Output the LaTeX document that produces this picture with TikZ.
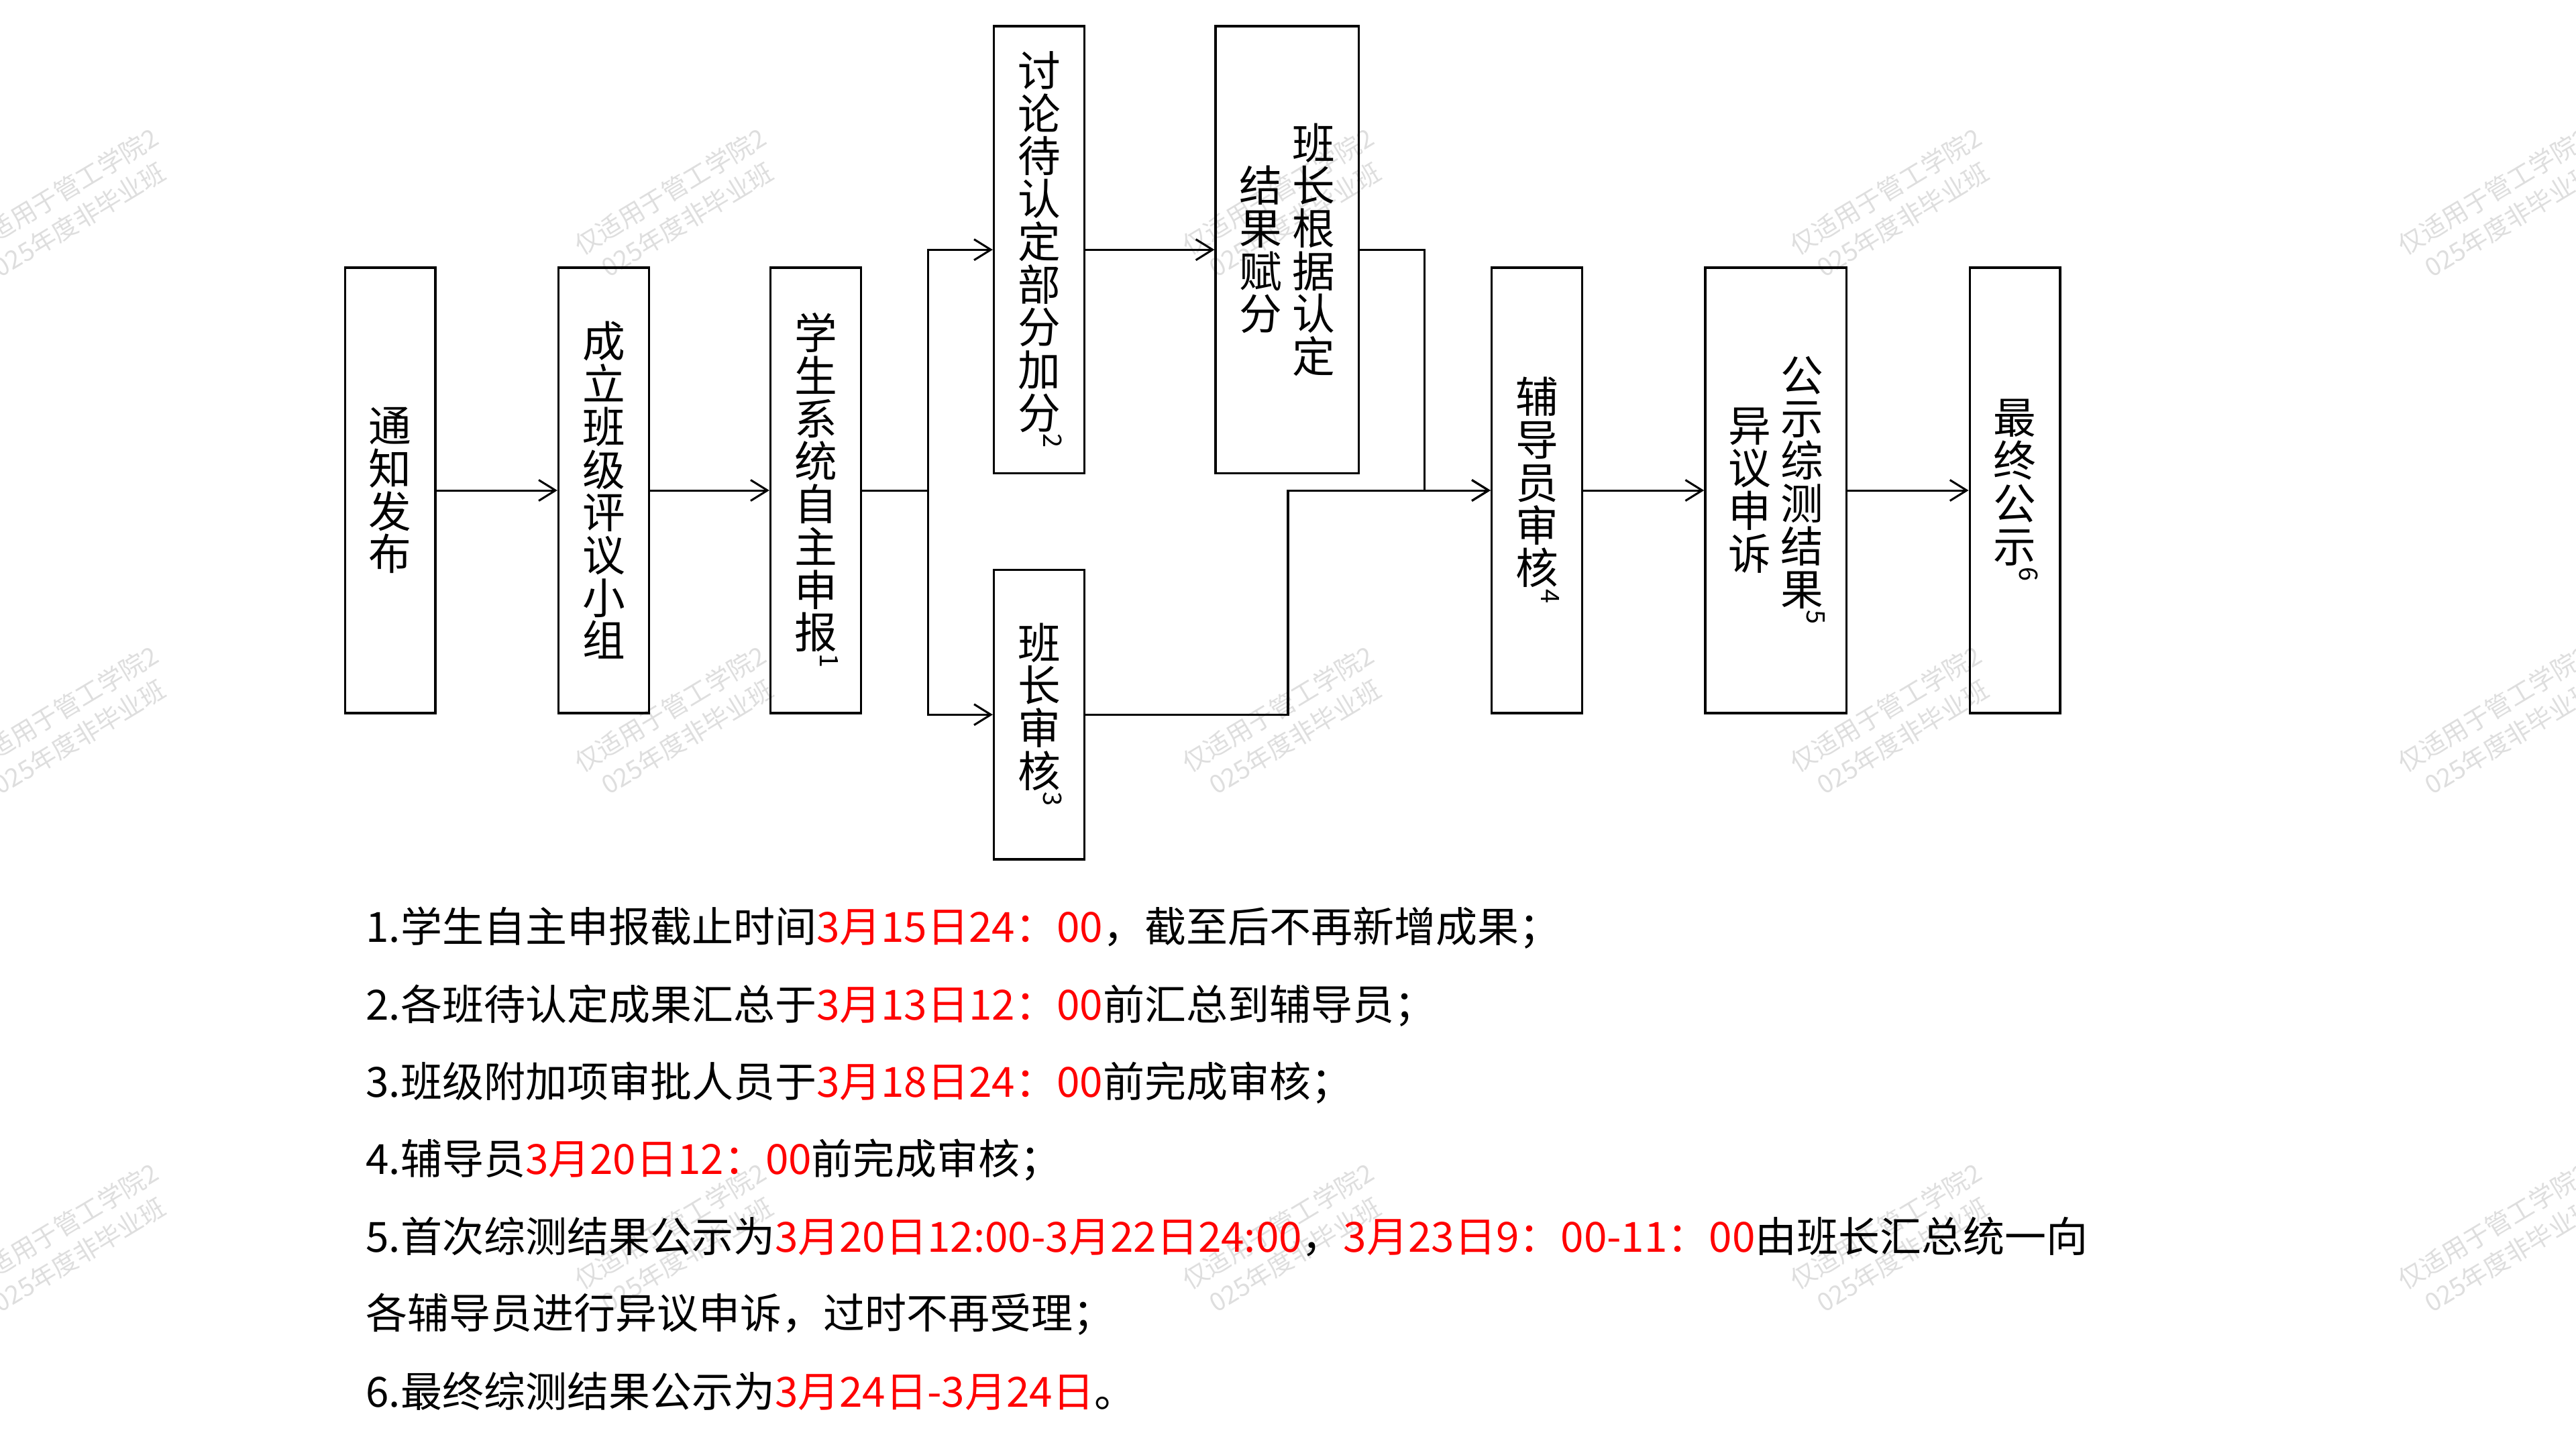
\documentclass[tikz,border=0pt]{standalone}
\usepackage{fontspec}
\usepackage{graphicx}
\setmainfont{Noto Sans CJK SC}
\usetikzlibrary{arrows.meta}

% upright characters stacked top to bottom, rotated superscript at the end
\makeatletter
\newcommand\vstack[2]{%
  \ensuremath{\vcenter{\baselineskip=1em\lineskiplimit=-\maxdimen\lineskip=0pt
    \@tfor\vch:=#1\do{\hbox to 1em{\hss\vch\hss}}%
    \ifx\relax#2\relax\else
      \vskip-0.88em
      \hbox to 1em{\hskip0.6em\rotatebox{-90}{\fontsize{4.4pt}{5pt}\selectfont #2}\hss}%
    \fi}}}
\makeatother

\begin{document}
\begin{tikzpicture}[x=0.01cm, y=-0.01cm,
  stepbox/.style={draw, line width=0.4pt, inner sep=0pt, minimum width=0.55cm, minimum height=2.71cm,
    font=\fontsize{7.4pt}{9.25pt}\selectfont},
  link/.style={line width=0.35pt},
  arr/.style={line width=0.35pt, -{Straight Barb[length=2.9pt, width=3.6pt]}},
  note/.style={anchor=west, inner sep=0pt, font=\fontsize{7.2pt}{9pt}\selectfont},
  wmark/.style={text=black!13, rotate=31, align=center, inner sep=0pt, font=\fontsize{4.4pt}{5.7pt}\selectfont}]

  \useasboundingbox (0,0) rectangle (1568,882);
  \clip (0,0) rectangle (1568,882);

  % Watermarks
  \foreach \wx in {43,413,783,1153,1523}
    \foreach \wy in {125,440,755}
      \node[wmark] (wm-\wx-\wy) at (\wx,\wy) {仅适用于管工学院2\\025年度非毕业班};

  % Steps
  \node[stepbox] (tongzhi) at (237.5,298.5) {\vstack{通知发布}{}};
  \node[stepbox] (xiaozu) at (367.5,298.5) {\vstack{成立班级评议小组}{}};
  \node[stepbox] (shenbao) at (496.5,298.5) {\vstack{学生系统自主申报}{1}};
  \node[stepbox, minimum height=2.72cm] (taolun) at (632.5,152) {\vstack{讨论待认定部分加分}{2}};
  \node[stepbox, minimum width=0.87cm, minimum height=2.72cm] (fufen) at (783.5,152)
    {\vstack{结果赋分}{}\hspace{0.23em}\vstack{班长根据认定}{}};
  \node[stepbox, minimum height=1.76cm] (shenhe) at (632.5,435) {\vstack{班长审核}{3}};
  \node[stepbox] (fudaoyuan) at (935.5,298.5) {\vstack{辅导员审核}{4}};
  \node[stepbox, minimum width=0.86cm] (gongshi) at (1081,298.5)
    {\vstack{异议申诉}{}\hspace{0.23em}\vstack{公示综测结果}{5}};
  \node[stepbox] (zuizhong) at (1226.5,298.5) {\vstack{最终公示}{6}};

  \coordinate (fork) at (565,298.5);
  \coordinate (merge1) at (867,298.5);
  \coordinate (merge2) at (784,298.5);

  % Draw connectors between steps
  \draw[arr] (tongzhi) -- (xiaozu);
  \draw[arr] (xiaozu) -- (shenbao);
  \draw[link] (shenbao) -- (fork);
  \draw[arr] (fork) |- (taolun);
  \draw[arr] (fork) |- (shenhe);
  \draw[arr] (taolun) -- (fufen);
  \draw[arr] (fufen.east) -| (merge1) -- (fudaoyuan);
  \draw[arr] (shenhe.east) -| (merge2) -- (fudaoyuan);
  \draw[arr] (fudaoyuan) -- (gongshi);
  \draw[arr] (gongshi) -- (zuizhong);

  % Notes
  \node[note] (note1) at (222,565) {1.学生自主申报截止时间\textcolor{red}{3月15日24：00}，截至后不再新增成果；};
  \node[note] (note2) at (222,612) {2.各班待认定成果汇总于\textcolor{red}{3月13日12：00}前汇总到辅导员；};
  \node[note] (note3) at (222,659) {3.班级附加项审批人员于\textcolor{red}{3月18日24：00}前完成审核；};
  \node[note] (note4) at (222,706) {4.辅导员\textcolor{red}{3月20日12：00}前完成审核；};
  \node[note] (note5) at (222,753) {5.首次综测结果公示为\textcolor{red}{3月20日12:00-3月22日24:00}，\textcolor{red}{3月23日9：00-11：00}由班长汇总统一向};
  \node[note] (note5b) at (222,800) {各辅导员进行异议申诉，过时不再受理；};
  \node[note] (note6) at (222,847) {6.最终综测结果公示为\textcolor{red}{3月24日-3月24日}。};

\end{tikzpicture}
\end{document}
